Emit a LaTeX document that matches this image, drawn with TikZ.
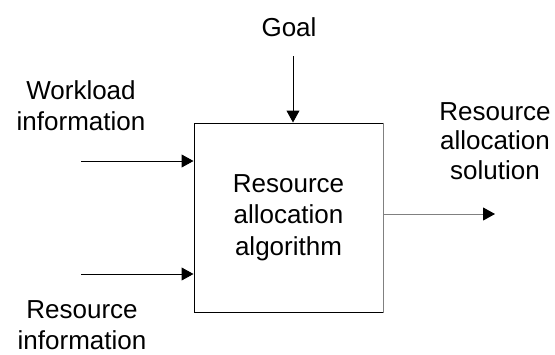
\documentclass[tikz,border=0pt]{standalone}
\usepackage{fontspec}
\setmainfont{Liberation Sans}
\usetikzlibrary{arrows.meta}
\begin{document}
\begin{tikzpicture}[x=1pt,y=-1pt,
  lbl/.style={inner sep=0pt,align=center,font=\fontsize{26}{31.5}\selectfont},
  conn/.style={line width=1pt,-{Triangle[length=12pt,width=13pt,color=black]}},
  blk/.style={draw=black,line width=1pt,minimum width=189pt,minimum height=189pt,inner sep=0pt,align=center,font=\fontsize{26}{31.5}\selectfont}]
\useasboundingbox (0,0) rectangle (555,354);
\node[blk] (alg) at (288.5,217.5) {Resource\\allocation\\algorithm};
\draw[gray,line width=1pt] (alg.north east) -- (alg.south east);
\node[lbl,anchor=base] (goal) at (289,36) {Goal};
\node[lbl] (work) at (81,105.5) {Workload\\information};
\node[lbl] (res) at (82,325) {Resource\\information};
\node[lbl,font=\fontsize{26}{29.5}\selectfont] (sol) at (495,141) {Resource\\allocation\\solution};
\coordinate (gt) at (293,56);
\coordinate (wt) at (81,161);
\coordinate (rt) at (81,274);
\coordinate (st) at (495,214);
\draw[conn] (gt) -- (gt |- alg.north);
\draw[conn] (wt) -- (wt -| alg.west);
\draw[conn] (rt) -- (rt -| alg.west);
\draw[conn,draw=gray] (st -| alg.east) -- (st);
\end{tikzpicture}
\end{document}
